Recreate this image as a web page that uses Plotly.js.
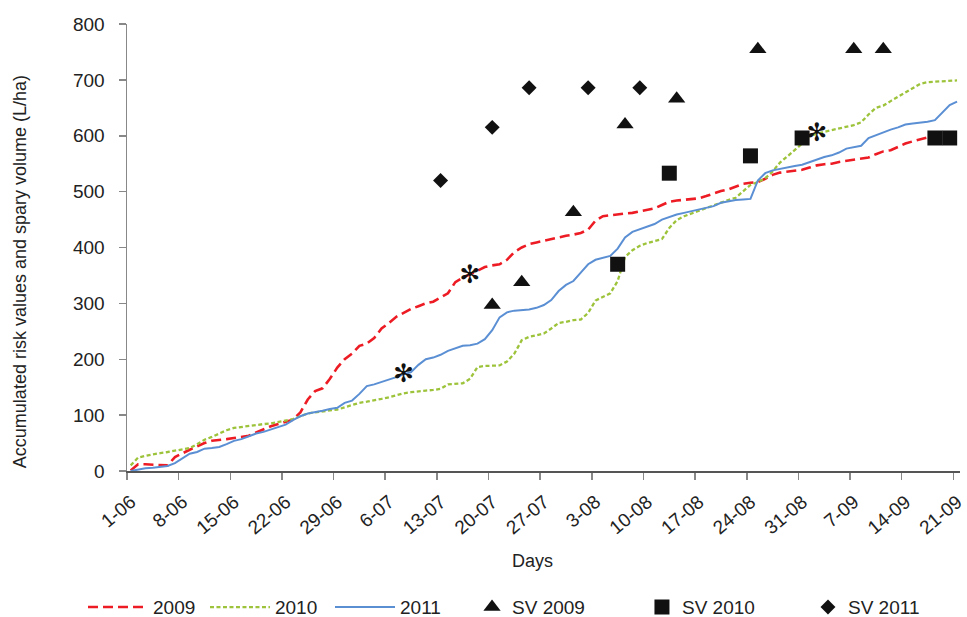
<!DOCTYPE html>
<html>
<head>
<meta charset="utf-8">
<script src="https://cdn.plot.ly/plotly-3.0.1.min.js"></script>
<style>html,body{margin:0;padding:0;background:#fff;}#chart{width:967px;height:617px;}</style>
</head>
<body>
<div id="chart"></div>
<script>
// Tick labels (every 7 days from 1 June)
var tickLabels = ["1-06","8-06","15-06","22-06","29-06","6-07","13-07","20-07","27-07","3-08","10-08","17-08","24-08","31-08","7-09","14-09","21-09"];

// Accumulated risk values, one per day from 1-06 to 21-09
var risk2009 = [1,12,12,11,10,10,25,32,38,44,50,54,55,57,59,61,63,69,75,80,84,88,92,105,128,143,148,165,185,200,210,224,228,238,255,265,276,283,290,295,300,303,310,318,338,346,352,358,365,368,370,378,392,400,406,409,412,415,419,421,423,426,432,448,456,458,460,461,462,465,467,470,476,482,484,485,486,488,492,497,501,504,509,514,516,517,523,530,534,536,537,539,543,547,549,550,553,555,557,559,561,567,572,574,580,586,590,594,597,598,598,598,598];
var risk2010 = [10,24,27,30,32,34,36,38,41,48,56,61,67,73,77,79,81,83,84,85,88,90,93,98,103,105,107,109,110,114,118,122,124,126,129,132,136,139,141,143,144,145,147,155,156,157,165,186,188,189,189,196,210,234,240,243,246,255,265,267,270,271,283,305,312,318,340,383,395,403,408,411,415,435,449,456,461,466,470,476,481,485,489,500,512,517,524,536,552,563,575,586,600,604,607,610,613,616,619,624,638,650,654,662,670,678,686,693,696,697,698,698,699];
var risk2011 = [0,3,5,6,7,9,14,23,31,34,40,41,43,48,54,57,62,67,70,74,78,83,91,98,103,105,108,111,113,122,126,138,152,155,159,163,168,173,177,190,200,203,208,215,220,224,225,228,236,252,275,284,287,288,289,292,297,306,322,333,340,355,370,378,382,385,398,418,428,433,438,442,450,455,459,462,465,467,470,474,480,483,485,486,487,520,533,538,541,544,546,548,553,558,562,565,570,577,580,582,596,601,607,611,615,620,622,623,625,628,642,655,661];

// Spray volumes (L/ha)
var sv2009Dates = ["20-07","24-07","31-07","7-08","14-08","25-08","7-09","11-09"];
var sv2009Vals  = [297,338,463,620,666,755,755,755];
var sv2010Dates = ["6-08","13-08","24-08","31-08","18-09","20-09"];
var sv2010Vals  = [370,533,564,596,596,596];
var sv2011Dates = ["13-07","20-07","25-07","2-08","9-08"];
var sv2011Vals  = [520,615,686,686,686];

// Asterisk marks
var starDates = ["8-07","17-07","2-09"];
var starVals  = [171,348,602];

function dayIndex(s){
  var p = s.split("-"); var dd = +p[0], mm = +p[1];
  var off = {6:0, 7:30, 8:61, 9:92}[mm];
  return off + dd - 1;
}
var days = risk2009.map(function(_, i){ return i; });
var tickVals = tickLabels.map(function(t){ return dayIndex(t) - 0.5; });

var FONT = "Liberation Sans, Arial, sans-serif";
var TXT = "#222";

var traces = [
  {x: days, y: risk2009, type:"scatter", mode:"lines", name:"2009", legend:"legend",
   line:{color:"#ed1c24", width:2.6, dash:"10px,5px"}},
  {x: days, y: risk2010, type:"scatter", mode:"lines", name:"2010", legend:"legend2",
   line:{color:"#9dc33b", width:2.3, dash:"4px,2.5px"}},
  {x: days, y: risk2011, type:"scatter", mode:"lines", name:"2011", legend:"legend3",
   line:{color:"#5b8fd4", width:2}},
  {x: sv2009Dates.map(dayIndex), y: sv2009Vals, type:"scatter", mode:"markers", name:"SV 2009", legend:"legend4",
   marker:{symbol:"triangle-up", size:15, color:"#111"}},
  {x: sv2010Dates.map(dayIndex), y: sv2010Vals, type:"scatter", mode:"markers", name:"SV 2010", legend:"legend5",
   marker:{symbol:"square", size:15, color:"#111"}},
  {x: sv2011Dates.map(dayIndex), y: sv2011Vals, type:"scatter", mode:"markers", name:"SV 2011", legend:"legend6",
   marker:{symbol:"diamond", size:11.5, color:"#111"}},
  {x: starDates.map(dayIndex), y: starVals, type:"scatter", mode:"text", text: starDates.map(function(){return "✻";}),
   textposition:"middle center", textfont:{family:"DejaVu Sans", size:25, color:"#111"}, showlegend:false, hoverinfo:"skip"}
];

function leg(x, w){
  return {orientation:"h", x:x, xanchor:"left", y:-0.3047, yanchor:"middle", itemwidth:w,
    font:{size:19, color:TXT}, bgcolor:"rgba(0,0,0,0)"};
}

var layout = {
  width:967, height:617,
  margin:{l:127, r:7, t:24, b:146, autoexpand:false},
  paper_bgcolor:"#fff", plot_bgcolor:"#fff",
  font:{family:FONT, color:TXT, size:18},
  xaxis:{range:[-0.5,112.4], tickmode:"array", tickvals:tickVals, ticktext:tickLabels,
    tickangle:-40, ticks:"outside", ticklen:7, tickcolor:"#888", tickwidth:1.5,
    ticklabelstandoff:4, ticklabelshift:4,
    showline:true, linecolor:"#555", linewidth:1.5, showgrid:false, zeroline:false,
    tickfont:{size:19, color:TXT}},
  yaxis:{range:[0,800], tickvals:[0,100,200,300,400,500,600,700,800],
    ticks:"outside", ticklen:7, tickcolor:"#888", tickwidth:1.5, ticklabelstandoff:10,
    showline:true, linecolor:"#888", linewidth:1.5, showgrid:false, zeroline:false,
    tickfont:{size:19, color:TXT}},
  legend: leg(-0.0528, 60),
  legend2: leg(0.0936, 60),
  legend3: leg(0.2437, 60),
  legend4: leg(0.4142, 30),
  legend5: leg(0.6182, 30),
  legend6: leg(0.8175, 30),
  annotations:[
    {text:"Accumulated risk values and spary volume (L/ha)", xref:"paper", yref:"paper",
     x:-0.1285, y:0.447, xanchor:"center", yanchor:"middle", textangle:-90, showarrow:false, font:{size:18, color:TXT}},
    {text:"Days", xref:"paper", yref:"paper", x:0.487, y:-0.2023, xanchor:"center", yanchor:"middle", showarrow:false, font:{size:18, color:TXT}}
  ],
  showlegend:true
};

Plotly.newPlot("chart", traces, layout, {staticPlot:true});
</script>
</body>
</html>
